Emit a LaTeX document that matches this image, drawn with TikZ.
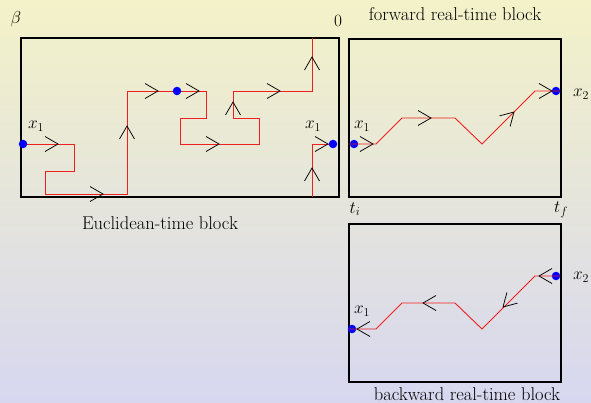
\documentclass[tikz,border=0pt]{standalone}
\usepackage{tikz}
\definecolor{bgtop}{RGB}{243,242,200}
\definecolor{bgbot}{RGB}{215,215,240}
\definecolor{pathred}{RGB}{240,30,30}
\definecolor{dotblue}{RGB}{0,0,255}
\tikzset{
  x=1pt,y=-1pt,
  blockbox/.style={draw=black,line width=1.4pt},
  wpath/.style={draw=pathred,line width=0.9pt,line join=miter},
  chev/.pic={\draw[black,line width=0.75pt] (-13,-7.5) -- (0,0) -- (-13,7.5);},
  bdot/.style={circle,fill=dotblue,inner sep=0pt,minimum size=8.5pt},
  lbl/.style={inner sep=0pt,font=\fontsize{18.5}{22}\selectfont},
}
\begin{document}
\begin{tikzpicture}
\useasboundingbox (0,0) rectangle (591,402);
\shade[top color=bgtop,bottom color=bgbot] (0,0) rectangle (591,402);

% ---------- Euclidean block ----------
\draw[blockbox] (21,38) rectangle (339,197);
\draw[wpath] (23,144) -- (74,144) -- (74,171) -- (45,171) -- (45,194) -- (127,194) -- (127,91) -- (206,91) -- (206,118) -- (180,118) -- (180,144) -- (259,144) -- (259,118) -- (233,118) -- (233,91) -- (312,91) -- (312,38);
\draw[wpath] (312,197) -- (312,144) -- (332,144);
\pic at (58,144) {chev};
\pic at (103,194) {chev};
\pic[rotate=90] at (127,126) {chev};
\pic at (158,91) {chev};
\pic at (199,91) {chev};
\pic at (219,144) {chev};
\pic[rotate=90] at (233,102) {chev};
\pic at (280,91) {chev};
\pic[rotate=90] at (312,57) {chev};
\pic[rotate=90] at (312,168) {chev};
\pic at (328,144) {chev};
\node[bdot] (e1) at (23,144) {};
\node[bdot] (e2) at (177,91) {};
\node[bdot] (e3) at (333,144) {};
\node[lbl] (beta) at (16,19) {$\beta$};
\node[lbl] (zero) at (338,21) {$0$};
\node[lbl] (ex1) at (36,126) {$x_1$};
\node[lbl] (ex1b) at (313,126) {$x_1$};
\node[lbl] (etitle) at (160,223) {Euclidean-time block};

% ---------- forward block ----------
\draw[blockbox] (349,39) rectangle (561,197);
\node[bdot] (f1) at (354,144) {};
\node[bdot] (f2) at (556,91) {};
\draw[wpath] (349,144) -- (376,144) -- (402,118) -- (455,118) -- (482,144) -- (535,91) -- (560,91);
\pic at (373,144) {chev};
\pic at (431,118) {chev};
\pic[rotate=45] at (514,112) {chev};
\pic at (552,91) {chev};
\node[lbl] (fx1) at (362,126) {$x_1$};
\node[lbl] (fx2) at (581,94) {$x_2$};
\node[lbl] (ti) at (355,209) {$t_i$};
\node[lbl] (tf) at (561,210) {$t_f$};
\node[lbl] (ftitle) at (455,14) {forward real-time block};

% ---------- backward block ----------
\draw[blockbox] (349,224) rectangle (561,382);
\node[bdot] (b1) at (352,329) {};
\node[bdot] (b2) at (556,276) {};
\draw[wpath] (349,329) -- (376,329) -- (402,303) -- (455,303) -- (482,329) -- (535,276) -- (560,276);
\pic[rotate=180] at (357,329) {chev};
\pic[rotate=180] at (423,303) {chev};
\pic[rotate=225] at (503,307) {chev};
\pic[rotate=180] at (539,276) {chev};
\node[lbl] (bx1) at (362,311) {$x_1$};
\node[lbl] (bx2) at (581,277) {$x_2$};
\node[lbl] (btitle) at (467,394) {backward real-time block};
\end{tikzpicture}
\end{document}
